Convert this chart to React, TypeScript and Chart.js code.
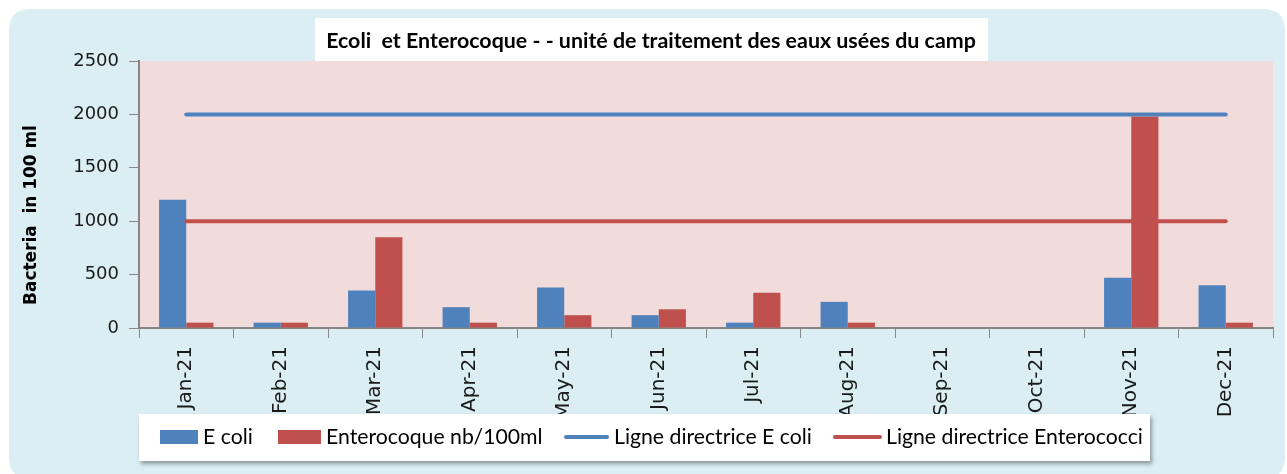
import React, { useEffect, useRef } from 'react';
import { Chart, registerables } from 'chart.js';

Chart.register(...registerables);

const categories = ['Jan-21', 'Feb-21', 'Mar-21', 'Apr-21', 'May-21', 'Jun-21', 'Jul-21', 'Aug-21', 'Sep-21', 'Oct-21', 'Nov-21', 'Dec-21'];
const eColi = [1200, 50, 350, 195, 380, 120, 50, 245, null, null, 470, 400];
const enterocoque = [50, 50, 850, 50, 120, 175, 330, 50, null, null, 1980, 50];
const guideEColi = [2000, 2000, 2000, 2000, 2000, 2000, 2000, 2000, 2000, 2000, 2000, 2000];
const guideEntero = [1000, 1000, 1000, 1000, 1000, 1000, 1000, 1000, 1000, 1000, 1000, 1000];
const yMin = 0;
const yMax = 2500;
const yStep = 500;

const titleText = 'Ecoli  et Enterocoque - - unité de traitement des eaux usées du camp';
const yTitleText = 'Bacteria  in 100 ml';
const legendLabels = ['E coli', 'Enterocoque nb/100ml', 'Ligne directrice E coli', 'Ligne directrice Enterococci'];

const BLUE = '#4F81BD';
const RED = '#C0504D';
const AXIS = '#868686';

function fitSize(ctx: CanvasRenderingContext2D, text: string, weight: string, family: string, target: number) {
  const base = 20;
  ctx.font = `${weight} ${base}px ${family}`;
  const w = ctx.measureText(text).width;
  return (base * target) / w;
}

function roundRect(ctx: CanvasRenderingContext2D, x: number, y: number, w: number, h: number, r: number) {
  ctx.beginPath();
  ctx.moveTo(x + r, y);
  ctx.lineTo(x + w - r, y);
  ctx.quadraticCurveTo(x + w, y, x + w, y + r);
  ctx.lineTo(x + w, y + h - r);
  ctx.quadraticCurveTo(x + w, y + h, x + w - r, y + h);
  ctx.lineTo(x + r, y + h);
  ctx.quadraticCurveTo(x, y + h, x, y + h - r);
  ctx.lineTo(x, y + r);
  ctx.quadraticCurveTo(x, y, x + r, y);
  ctx.closePath();
}

const decorPlugin = {
  id: 'decor',
  beforeDraw(chart: any) {
    const { ctx, chartArea: a, width, height } = chart;
    ctx.save();
    ctx.fillStyle = '#ffffff';
    ctx.fillRect(0, 0, width, height);
    ctx.fillStyle = '#DAEEF3';
    roundRect(ctx, 9, 9, 1276, 470, 22);
    ctx.fill();
    ctx.fillStyle = '#F2DCDB';
    ctx.fillRect(a.left, a.top, a.right - a.left, a.bottom - a.top);
    // title box
    ctx.fillStyle = '#ffffff';
    ctx.fillRect(315, 18, 673, a.top - 18);
    const ts = fitSize(ctx, titleText, 'bold', 'Lato', 650);
    ctx.font = `bold ${ts}px Lato`;
    ctx.fillStyle = '#000000';
    ctx.textAlign = 'center';
    ctx.textBaseline = 'middle';
    ctx.fillText(titleText, 651, 41);
    // y title
    const ys = fitSize(ctx, yTitleText, 'bold', 'DejaVu Sans', 180);
    ctx.translate(32, 215);
    ctx.rotate(-Math.PI / 2);
    ctx.font = `bold ${ys}px DejaVu Sans`;
    ctx.fillText(yTitleText, 0, 0);
    ctx.restore();
  },
  afterDraw(chart: any) {
    const { ctx } = chart;
    ctx.save();
    ctx.shadowColor = 'rgba(0,0,0,0.35)';
    ctx.shadowBlur = 4;
    ctx.shadowOffsetX = 2;
    ctx.shadowOffsetY = 3;
    ctx.fillStyle = '#ffffff';
    ctx.fillRect(139, 414, 1011, 47);
    ctx.shadowColor = 'transparent';
    const cy = 437;
    ctx.fillStyle = BLUE;
    ctx.fillRect(160, 430, 38, 14);
    ctx.fillStyle = RED;
    ctx.fillRect(278, 430, 43, 14);
    ctx.lineCap = 'round';
    ctx.lineWidth = 4;
    ctx.strokeStyle = BLUE;
    ctx.beginPath();
    ctx.moveTo(566, cy);
    ctx.lineTo(607, cy);
    ctx.stroke();
    ctx.strokeStyle = RED;
    ctx.beginPath();
    ctx.moveTo(835, cy);
    ctx.lineTo(880, cy);
    ctx.stroke();
    const ls = fitSize(ctx, legendLabels[3], 'normal', 'Lato', 257);
    ctx.font = `normal ${ls}px Lato`;
    ctx.fillStyle = '#000000';
    ctx.textAlign = 'left';
    ctx.textBaseline = 'middle';
    const xs = [203, 326, 614, 886];
    legendLabels.forEach((t, i) => ctx.fillText(t, xs[i], cy));
    ctx.restore();
  },
};

export default function App() {
  const ref = useRef<HTMLCanvasElement | null>(null);
  useEffect(() => {
    if (!ref.current) return;
    const chart = new Chart(ref.current, {
      type: 'bar',
      data: {
        labels: categories,
        datasets: [
          { type: 'line', label: legendLabels[2], data: guideEColi, borderColor: BLUE, backgroundColor: BLUE, borderWidth: 4, pointRadius: 0, borderCapStyle: 'round', order: 0 } as any,
          { type: 'line', label: legendLabels[3], data: guideEntero, borderColor: RED, backgroundColor: RED, borderWidth: 4, pointRadius: 0, borderCapStyle: 'round', order: 0 } as any,
          { type: 'bar', label: legendLabels[0], data: eColi, backgroundColor: BLUE, barPercentage: 1, categoryPercentage: 0.575, order: 1 } as any,
          { type: 'bar', label: legendLabels[1], data: enterocoque, backgroundColor: RED, barPercentage: 1, categoryPercentage: 0.575, order: 1 } as any,
        ],
      },
      options: {
        responsive: false,
        animation: false,
        layout: { padding: { top: 61, right: 14, left: 0, bottom: 0 } },
        plugins: { legend: { display: false }, title: { display: false }, tooltip: { enabled: false } },
        scales: {
          x: {
            offset: true,
            grid: { display: true, drawOnChartArea: false, drawTicks: true, tickLength: 10, color: AXIS, offset: true },
            border: { display: true, color: AXIS, width: 2 },
            ticks: { minRotation: 90, maxRotation: 90, autoSkip: false, padding: 8, color: '#1a1a1a', font: { family: 'DejaVu Sans', size: 20 } },
            afterFit(scale: any) { scale.height = 146; },
          },
          y: {
            min: yMin,
            max: yMax,
            grid: { display: true, drawOnChartArea: false, drawTicks: true, tickLength: 10, color: AXIS },
            border: { display: true, color: AXIS, width: 2 },
            ticks: { stepSize: yStep, padding: 10, color: '#1a1a1a', font: { family: 'DejaVu Sans', size: 18 }, callback: (v: any) => String(v) },
            afterFit(scale: any) { scale.width = 139; },
          },
        },
      } as any,
      plugins: [decorPlugin],
    });
    return () => chart.destroy();
  }, []);
  return (
    <div style={{ position: 'fixed', left: 0, top: 0, width: 1287, height: 474 }}>
      <canvas ref={ref} width={1287} height={474} style={{ display: 'block' }} />
    </div>
  );
}
